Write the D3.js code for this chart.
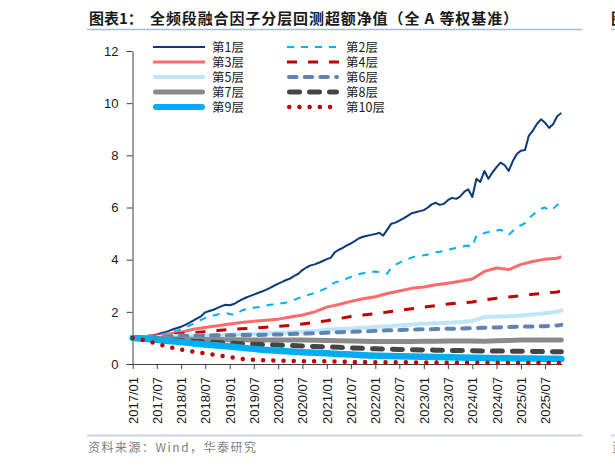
<!DOCTYPE html>
<html>
<head>
<meta charset="utf-8">
<script src="https://cdn.jsdelivr.net/npm/d3@7"></script>
<style>
  html, body { margin: 0; padding: 0; background: #fff; }
  svg { display: block; }
  .axis path, .axis line { stroke: #404040; }
  .axis text { font-family: "Liberation Sans", Arial, sans-serif; font-size: 13px; fill: #1a1a1a; }
</style>
</head>
<body>
<div id="chart"></div>
<script>
// ---- data ----
const layerNames = ["第1层", "第2层", "第3层", "第4层", "第5层", "第6层", "第7层", "第8层", "第9层", "第10层"];

// layers 1 and 2: monthly values, 2017/01 .. 2025/11
const layer1 = [1.00, 1.02, 1.04, 1.06, 1.08, 1.10, 1.13, 1.18, 1.22, 1.27, 1.33, 1.38,
  1.43, 1.50, 1.58, 1.66, 1.75, 1.84, 1.98, 2.03, 2.08, 2.15, 2.22, 2.27,
  2.25, 2.30, 2.38, 2.47, 2.54, 2.60, 2.66, 2.72, 2.78, 2.84, 2.92, 3.00,
  3.08, 3.15, 3.22, 3.28, 3.38, 3.46, 3.60, 3.70, 3.78, 3.82, 3.88, 3.95,
  4.02, 4.08, 4.28, 4.38, 4.45, 4.55, 4.62, 4.72, 4.82, 4.88, 4.92, 4.95,
  4.98, 5.03, 4.92, 5.15, 5.38, 5.42, 5.50, 5.58, 5.68, 5.78, 5.82, 5.86,
  5.90, 6.00, 6.12, 6.18, 6.10, 6.14, 6.28, 6.37, 6.33, 6.42, 6.60, 6.70,
  6.40, 7.10, 6.98, 7.40, 7.10, 7.35, 7.55, 7.72, 7.62, 7.40, 7.78, 8.05,
  8.18, 8.20, 8.75, 8.95, 9.20, 9.38, 9.25, 9.05, 9.20, 9.50, 9.62];
const layer2 = [1.00, 1.02, 1.04, 1.06, 1.08, 1.10, 1.11, 1.12, 1.16, 1.20, 1.24, 1.28,
  1.33, 1.40, 1.47, 1.54, 1.62, 1.70, 1.76, 1.82, 1.86, 1.90, 1.94, 1.96,
  1.92, 1.88, 1.95, 2.05, 2.10, 2.14, 2.16, 2.18, 2.20, 2.24, 2.27, 2.28,
  2.30, 2.33, 2.36, 2.40, 2.46, 2.52, 2.58, 2.62, 2.68, 2.72, 2.78, 2.85,
  2.91, 3.05, 3.12, 3.17, 3.22, 3.28, 3.34, 3.40, 3.45, 3.48, 3.50, 3.52,
  3.55, 3.52, 3.48, 3.46, 3.70, 3.80, 3.88, 3.96, 4.02, 4.08, 4.13, 4.15,
  4.17, 4.20, 4.24, 4.28, 4.30, 4.34, 4.38, 4.42, 4.45, 4.48, 4.52, 4.54,
  4.50, 4.92, 4.96, 5.02, 5.06, 5.10, 5.12, 5.15, 5.05, 4.95, 5.10, 5.25,
  5.32, 5.40, 5.58, 5.72, 5.85, 5.95, 6.00, 5.88, 5.95, 6.10, 6.20];

// layers 3..10: quarterly readings (months after 2017/01)
const quarterMonths = [0, 3, 6, 9, 12, 15, 18, 21, 24, 27, 30, 33, 36, 39, 42, 45, 48, 51,
  54, 57, 60, 63, 66, 69, 72, 75, 78, 81, 84, 87, 90, 93, 96, 99, 102, 105, 106];
const layer3 = [1.00, 1.04, 1.09, 1.15, 1.22, 1.33, 1.40, 1.47, 1.53, 1.59, 1.64, 1.68, 1.72,
  1.80, 1.88, 2.00, 2.18, 2.28, 2.40, 2.50, 2.58, 2.70, 2.80, 2.90, 2.95, 3.04, 3.10, 3.17,
  3.26, 3.55, 3.68, 3.62, 3.82, 3.93, 4.02, 4.05, 4.12];
const layer4 = [1.00, 1.04, 1.08, 1.12, 1.16, 1.20, 1.24, 1.28, 1.32, 1.35, 1.38, 1.41, 1.44,
  1.48, 1.53, 1.59, 1.66, 1.74, 1.82, 1.88, 1.93, 1.99, 2.05, 2.12, 2.18, 2.24, 2.30, 2.34,
  2.38, 2.46, 2.52, 2.57, 2.62, 2.67, 2.72, 2.76, 2.80];
const layer5 = [1.00, 1.02, 1.04, 1.06, 1.08, 1.09, 1.10, 1.11, 1.12, 1.14, 1.16, 1.18, 1.20,
  1.22, 1.24, 1.27, 1.31, 1.34, 1.36, 1.39, 1.42, 1.45, 1.48, 1.51, 1.54, 1.56, 1.58, 1.61,
  1.65, 1.80, 1.82, 1.83, 1.86, 1.90, 1.95, 2.00, 2.05];
const layer6 = [1.00, 1.02, 1.04, 1.06, 1.07, 1.08, 1.09, 1.10, 1.10, 1.11, 1.11, 1.12, 1.13,
  1.15, 1.16, 1.18, 1.20, 1.22, 1.23, 1.25, 1.27, 1.29, 1.30, 1.32, 1.33, 1.34, 1.35, 1.36,
  1.37, 1.39, 1.40, 1.42, 1.43, 1.44, 1.45, 1.48, 1.50];
const layer7 = [1.00, 0.99, 0.98, 0.97, 0.96, 0.95, 0.94, 0.94, 0.93, 0.93, 0.92, 0.92, 0.92,
  0.92, 0.92, 0.91, 0.90, 0.89, 0.88, 0.87, 0.86, 0.86, 0.86, 0.86, 0.87, 0.87, 0.88, 0.88,
  0.88, 0.87, 0.89, 0.90, 0.92, 0.92, 0.92, 0.92, 0.92];
const layer8 = [1.00, 0.97, 0.95, 0.92, 0.90, 0.87, 0.85, 0.82, 0.80, 0.78, 0.76, 0.74, 0.73,
  0.71, 0.69, 0.67, 0.66, 0.64, 0.62, 0.60, 0.58, 0.57, 0.56, 0.55, 0.54, 0.53, 0.52, 0.52,
  0.51, 0.50, 0.50, 0.49, 0.49, 0.48, 0.48, 0.47, 0.47];
const layer9 = [1.00, 0.97, 0.93, 0.88, 0.84, 0.79, 0.75, 0.71, 0.67, 0.62, 0.58, 0.54, 0.51,
  0.48, 0.45, 0.43, 0.41, 0.38, 0.36, 0.34, 0.32, 0.31, 0.30, 0.29, 0.28, 0.27, 0.26, 0.25,
  0.24, 0.23, 0.22, 0.22, 0.21, 0.21, 0.20, 0.20, 0.19];
const layer10 = [1.00, 0.91, 0.78, 0.65, 0.55, 0.47, 0.41, 0.34, 0.26, 0.20, 0.16, 0.14, 0.13,
  0.12, 0.11, 0.11, 0.10, 0.09, 0.08, 0.08, 0.07, 0.07, 0.07, 0.06, 0.06, 0.06, 0.05, 0.05,
  0.05, 0.05, 0.05, 0.04, 0.04, 0.04, 0.04, 0.04, 0.04];

const yTicks = [0, 2, 4, 6, 8, 10, 12];
const xTickLabels = ["2017/01", "2017/07", "2018/01", "2018/07", "2019/01", "2019/07",
  "2020/01", "2020/07", "2021/01", "2021/07", "2022/01", "2022/07", "2023/01", "2023/07",
  "2024/01", "2024/07", "2025/01", "2025/07"];

const titleLabel = "图表1：";
const titleText = "全频段融合因子分层回测超额净值（全 A 等权基准）";
const sourceText = "资料来源：Wind，华泰研究";

// ---- styles ----
const styles = [
  { color: "#0b3a7b", width: 2,   dash: null,       cap: "butt" },
  { color: "#00b0f0", width: 2,   dash: "7,7",      cap: "butt" },
  { color: "#ff6b6b", width: 3,   dash: null,       cap: "butt" },
  { color: "#c00000", width: 3,   dash: "10,11",    cap: "butt" },
  { color: "#bde7f7", width: 4,   dash: null,       cap: "round" },
  { color: "#5f84b2", width: 4,   dash: "7.5,8.2",  cap: "round" },
  { color: "#8a8a8a", width: 5,   dash: null,       cap: "round" },
  { color: "#454545", width: 5,   dash: "10,10",    cap: "round" },
  { color: "#00aeef", width: 6.5, dash: null,       cap: "round" },
  { color: "#c00000", width: 4.5, dash: "0,10.2",   cap: "round" }
];

const W = 615, H = 466;
const monthDate = (m) => new Date(2017, m, 1);
const parseTick = d3.timeParse("%Y/%m");

const series = [
  layer1.map((v, i) => ({ d: monthDate(i), v })),
  layer2.map((v, i) => ({ d: monthDate(i), v })),
  ...[layer3, layer4, layer5, layer6, layer7, layer8, layer9, layer10].map((arr) =>
    arr.map((v, i) => ({ d: monthDate(quarterMonths[i]), v })))
];

const svg = d3.select("#chart").append("svg").attr("width", W).attr("height", H);

// title + rules
svg.append("text").attr("x", 89).attr("y", 24)
  .style("font-family", "'Noto Sans CJK SC', sans-serif").style("font-weight", "bold")
  .style("font-size", "15px").style("fill", "#1a1a1a").text(titleLabel);
svg.append("text").attr("x", 150).attr("y", 24)
  .style("font-family", "'Noto Sans CJK SC', sans-serif").style("font-weight", "bold")
  .style("font-size", "15px").style("letter-spacing", "0.9px").style("fill", "#1a1a1a").text(titleText);
svg.append("line").attr("x1", 87).attr("x2", 582).attr("y1", 29.5).attr("y2", 29.5)
  .attr("stroke", "#a9bdd2").attr("stroke-width", 1.5);
svg.append("line").attr("x1", 611).attr("x2", 615).attr("y1", 29.5).attr("y2", 29.5)
  .attr("stroke", "#a9bdd2").attr("stroke-width", 1.5);
svg.append("text").attr("x", 611).attr("y", 24)
  .style("font-family", "'Noto Sans CJK SC', sans-serif").style("font-weight", "bold")
  .style("font-size", "15px").style("fill", "#1a1a1a").text("图表2");

svg.append("line").attr("x1", 87).attr("x2", 582).attr("y1", 435.5).attr("y2", 435.5)
  .attr("stroke", "#c9d6e4").attr("stroke-width", 2);
svg.append("line").attr("x1", 611).attr("x2", 615).attr("y1", 435.5).attr("y2", 435.5)
  .attr("stroke", "#c9d6e4").attr("stroke-width", 2);
svg.append("text").attr("x", 88).attr("y", 452)
  .style("font-family", "'Noto Sans CJK SC', sans-serif").style("font-size", "12px")
  .style("letter-spacing", "1.5px").style("fill", "#808080").text(sourceText);
svg.append("text").attr("x", 612).attr("y", 452)
  .style("font-family", "'Noto Sans CJK SC', sans-serif").style("font-size", "12px")
  .style("fill", "#808080").text("资料");

// scales
const x = d3.scaleTime()
  .domain([parseTick(xTickLabels[0]), parseTick(xTickLabels[xTickLabels.length - 1])])
  .range([132.7, 545]);
const y = d3.scaleLinear().domain([0, 12]).range([364, 51]);

const lastDate = monthDate(layer1.length - 1);

// axes
const yAxis = svg.append("g").attr("class", "axis").attr("transform", "translate(132.5,0)")
  .call(d3.axisLeft(y).tickValues(yTicks).tickSize(6).tickPadding(8).tickSizeOuter(0));
yAxis.select(".domain").attr("stroke-width", 1);

const xAxis = svg.append("g").attr("class", "axis").attr("transform", "translate(0,364)")
  .call(d3.axisBottom(x).tickValues(xTickLabels.map(parseTick)).tickSize(5)
    .tickFormat(d3.timeFormat("%Y/%m")).tickSizeOuter(0));
xAxis.select(".domain").attr("d", `M${x.range()[0] - 0.5},0.5H${x(lastDate) + 1}`);
xAxis.selectAll(".tick text")
  .attr("transform", "rotate(-90)")
  .attr("x", -13).attr("y", 0).attr("dy", "0.35em")
  .style("text-anchor", "end");

// lines
const line = d3.line().x((p) => x(p.d)).y((p) => y(p.v)).curve(d3.curveLinear);
const g = svg.append("g");
series.forEach((s, i) => {
  const st = styles[i];
  g.append("path").datum(s)
    .attr("d", line)
    .attr("fill", "none")
    .attr("stroke", st.color)
    .attr("stroke-width", st.width)
    .attr("stroke-linecap", st.cap)
    .attr("stroke-linejoin", "round")
    .attr("stroke-dasharray", st.dash);
});

// legend
const legend = svg.append("g");
layerNames.forEach((name, i) => {
  const st = styles[i];
  const col = i % 2, row = Math.floor(i / 2);
  const lx = col === 0 ? 153 : 287;
  const ly = 47 + row * 15;
  const lw = i === 8 ? 6 : st.width;
  legend.append("line")
    .attr("x1", lx + (st.cap === "round" ? lw / 2 : 0))
    .attr("x2", lx + 52 - (st.cap === "round" ? lw / 2 : 0))
    .attr("y1", ly).attr("y2", ly)
    .attr("stroke", st.color).attr("stroke-width", lw)
    .attr("stroke-linecap", st.cap).attr("stroke-dasharray", st.dash);
  legend.append("text").attr("x", lx + 59).attr("y", ly).attr("dy", "0.36em")
    .style("font-family", "'Noto Sans CJK SC', sans-serif").style("font-size", "12.5px")
    .style("fill", "#1a1a1a").text(name);
});
</script>
</body>
</html>
